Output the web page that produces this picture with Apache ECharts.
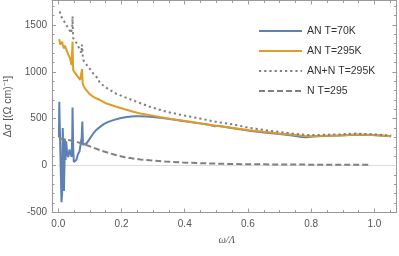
<!DOCTYPE html>
<html><head><meta charset="utf-8">
<script src="https://cdn.jsdelivr.net/npm/echarts@6/dist/echarts.min.js"></script>
<style>html,body{margin:0;padding:0;background:#fff}#c{width:399px;height:256px}</style>
</head><body><div id="c"></div>
<script>
// AN T=70K
const blueData = [
[0.002,300],[0.003,680],[0.005,380],[0.007,50],[0.010,-390],[0.012,-300],[0.014,400],[0.016,150],
[0.018,-270],[0.020,100],[0.021,280],[0.023,60],[0.025,260],[0.028,130],[0.032,90],[0.035,170],
[0.038,140],[0.042,95],[0.044,300],[0.045,620],[0.047,200],[0.049,40],[0.053,45],[0.057,60],
[0.062,120],[0.067,150],[0.071,170],[0.074,300],[0.076,470],[0.078,220],[0.082,215],[0.090,240],
[0.100,290],[0.110,340],[0.120,380],[0.132,413],[0.145,445],[0.158,466],[0.174,485],[0.195,505],
[0.216,518],[0.240,525],[0.258,527],[0.280,524],[0.300,518],[0.342,503],[0.395,476],[0.447,450],
[0.480,432],[0.495,418],[0.505,424],[0.553,398],[0.605,372],[0.650,354],[0.700,336],[0.740,320],
[0.770,306],[0.785,301],[0.805,311],[0.837,316],[0.889,320],[0.942,330],[0.995,325],[1.053,312]
];
// AN T=295K
const orangeData = [
[0.003,1348],[0.006,1290],[0.008,1300],[0.010,1270],[0.012,1320],[0.014,1290],[0.016,1300],[0.018,1250],
[0.021,1280],[0.024,1287],[0.027,1220],[0.030,1210],[0.032,1180],[0.035,1160],[0.037,1145],[0.040,1100],
[0.042,1073],[0.044,1060],[0.045,1323],[0.046,1150],[0.047,1020],[0.052,990],[0.058,966],[0.063,940],
[0.069,913],[0.073,900],[0.075,1030],[0.077,877],[0.080,850],[0.084,824],[0.090,800],[0.100,760],
[0.110,735],[0.121,715],[0.132,699],[0.150,665],[0.184,627],[0.210,600],[0.237,574],[0.260,556],
[0.290,538],[0.342,505],[0.395,478],[0.447,452],[0.500,424],[0.553,401],[0.605,378],[0.650,360],
[0.700,342],[0.750,326],[0.780,316],[0.805,313],[0.837,317],[0.889,322],[0.942,332],[0.995,327],[1.053,313]
];
// AN+N T=295K
const dottedData = [
[0.005,1644],[0.007,1600],[0.009,1620],[0.011,1590],[0.013,1580],[0.016,1555],[0.018,1560],[0.021,1520],
[0.025,1500],[0.029,1480],[0.032,1466],[0.036,1440],[0.039,1412],[0.042,1400],[0.044,1460],[0.045,1590],
[0.046,1450],[0.047,1359],[0.052,1330],[0.058,1305],[0.063,1270],[0.069,1234],[0.073,1200],[0.075,1290],
[0.077,1180],[0.079,1127],[0.084,1100],[0.090,1073],[0.100,1030],[0.110,984],[0.121,945],[0.132,880],
[0.158,815],[0.184,765],[0.210,730],[0.237,695],[0.260,665],[0.290,627],[0.342,574],[0.395,536],
[0.447,503],[0.500,466],[0.553,439],[0.605,402],[0.650,380],[0.700,358],[0.750,338],[0.780,328],
[0.805,325],[0.837,328],[0.889,332],[0.942,342],[0.995,334],[1.053,320]
];
// N T=295
const nData = [
[0.003,288],[0.020,280],[0.040,268],[0.060,250],[0.084,225],[0.100,205],[0.132,164],[0.158,137],
[0.184,110],[0.210,90],[0.237,75],[0.260,66],[0.290,57],[0.340,43],[0.395,32],[0.450,26],[0.500,21],
[0.550,17],[0.605,14],[0.700,12],[0.800,10],[0.900,9],[0.984,8]
];
const seriesNames = ['AN T=70K','AN T=295K','AN+N T=295K','N T=295'];
const xMajor = [0,0.2,0.4,0.6,0.8,1.0];
const xMinor = [0.05,0.1,0.15,0.25,0.3,0.35,0.45,0.5,0.55,0.65,0.7,0.75,0.85,0.9,0.95,1.05];
const yMajor = [-500,0,500,1000,1500];
const yMinor = [-400,-300,-200,-100,100,200,300,400,600,700,800,900,1100,1200,1300,1400,1600,1700];
const xRange = [-0.02,1.07];
const yRange = [-500,1760];

const axisColor = '#9a9a9a';
const labelColor = '#555';
function xAx(pos, ticks, len, labels, line){
  return {type:'value', position:pos, min:xRange[0], max:xRange[1],
    axisLine:{show:line, onZero:false, lineStyle:{color:axisColor, width:1}},
    axisTick:{show:true, inside:true, length:len, customValues:ticks, lineStyle:{color:axisColor}},
    axisLabel:{show:labels, customValues:ticks, color:labelColor, fontSize:10, margin:7,
      fontFamily:'Liberation Sans', formatter:v=>v.toFixed(1)},
    splitLine:{show:false},
    name: labels ? 'ω/Λ' : '', nameLocation:'middle', nameGap:22,
    nameTextStyle:{fontStyle:'italic', color:labelColor, fontSize:10.5, fontFamily:'Liberation Serif', padding:[0,0,0,5]}
  };
}
function yAx(pos, ticks, len, labels, line){
  return {type:'value', position:pos, min:yRange[0], max:yRange[1],
    axisLine:{show:line, onZero:false, lineStyle:{color:axisColor, width:1}},
    axisTick:{show:true, inside:true, length:len, customValues:ticks, lineStyle:{color:axisColor}},
    axisLabel:{show:labels, customValues:ticks, color:labelColor, fontSize:10, margin:5,
      fontFamily:'Liberation Sans', formatter:v=>String(v)},
    splitLine:{show:false},
    name: labels ? 'Δσ [(Ω cm)⁻¹]' : '', nameLocation:'middle', nameGap:38, nameRotate:90,
    nameTextStyle:{color:labelColor, fontSize:10.5, fontFamily:'Liberation Sans'}
  };
}
const chart = echarts.init(document.getElementById('c'), null, {renderer:'canvas'});
chart.setOption({
  animation:false,
  backgroundColor:'#fff',
  grid:{left:52, right:2.5, top:0.5, bottom:43.5, containLabel:false, outerBoundsMode:'none'},
  xAxis:[xAx('bottom',xMajor,4,true,true), xAx('bottom',xMinor,2.5,false,false),
         xAx('top',xMajor,4,false,true), xAx('top',xMinor,2.5,false,false)],
  yAxis:[yAx('left',yMajor,4,true,true), yAx('left',yMinor,2.5,false,false),
         yAx('right',yMajor,4,false,true), yAx('right',yMinor,2.5,false,false)],
  legend:{orient:'vertical', left:258, top:25.5, itemWidth:43, itemHeight:12, itemGap:9,
    padding:0, textStyle:{fontSize:10.5, color:'#333', fontFamily:'Liberation Sans'},
    itemStyle:{opacity:0},
    data:seriesNames},
  series:[
    {name:seriesNames[0], type:'line', data:blueData, showSymbol:false, symbol:'none',
     lineStyle:{color:'#5E81B5', width:2}, itemStyle:{color:'#5E81B5'},
     markLine:{silent:true, symbol:'none', z:1, label:{show:false},
       lineStyle:{color:'#dcdcdc', width:1, type:'solid'},
       data:[[{coord:[0,0]},{coord:[xRange[1],0]}]]}},
    {name:seriesNames[1], type:'line', data:orangeData, showSymbol:false, symbol:'none',
     lineStyle:{color:'#E19C24', width:2}, itemStyle:{color:'#E19C24'}},
    {name:seriesNames[2], type:'line', data:dottedData, showSymbol:false, symbol:'none',
     lineStyle:{color:'#808080', width:2, type:[2.2,3]}, itemStyle:{color:'#808080'}},
    {name:seriesNames[3], type:'line', data:nData, showSymbol:false, symbol:'none',
     lineStyle:{color:'#808080', width:2, type:[6,3]}, itemStyle:{color:'#808080'}}
  ]
});
</script></body></html>
